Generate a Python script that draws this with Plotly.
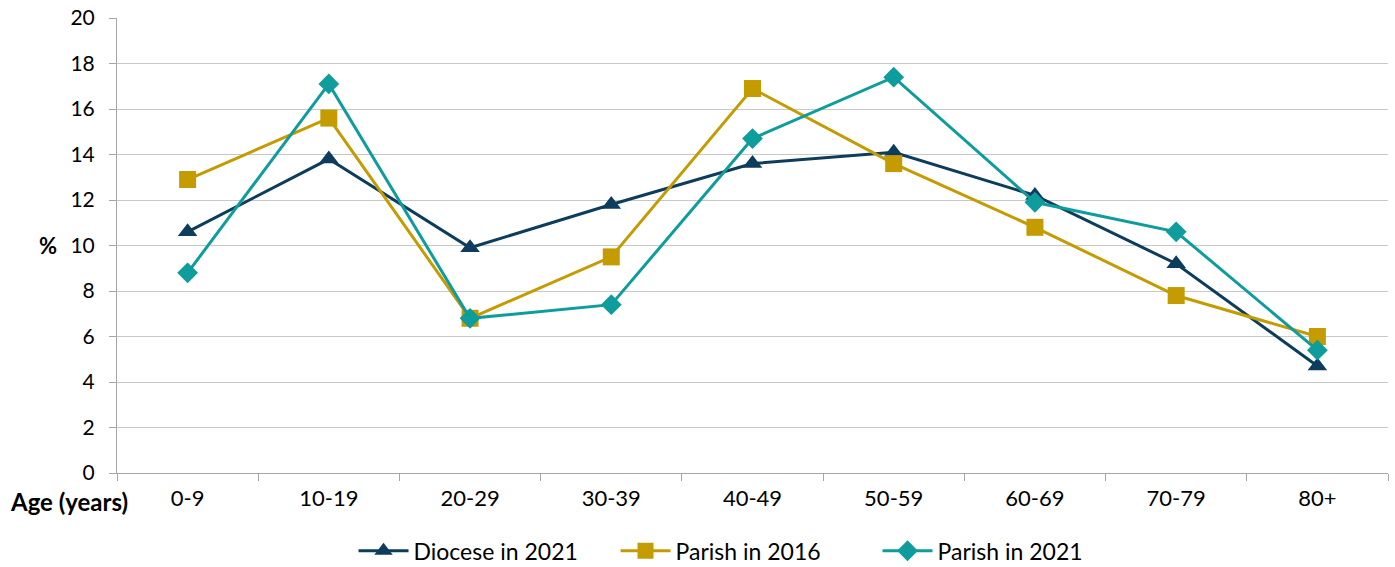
import plotly.graph_objects as go

categories = ["0-9", "10-19", "20-29", "30-39", "40-49", "50-59", "60-69", "70-79", "80+"]
diocese_2021 = [10.6, 13.8, 9.9, 11.8, 13.6, 14.1, 12.2, 9.2, 4.7]
parish_2016 = [12.9, 15.6, 6.8, 9.5, 16.9, 13.6, 10.8, 7.8, 6.0]
parish_2021 = [8.8, 17.1, 6.8, 7.4, 14.7, 17.4, 11.9, 10.6, 5.4]
y_ticks = [0, 2, 4, 6, 8, 10, 12, 14, 16, 18, 20]

FONT = "Lato, 'Open Sans', sans-serif"

fig = go.Figure()
fig.add_trace(go.Scatter(x=categories, y=diocese_2021, name="Diocese in 2021", mode="lines+markers",
                         line=dict(color="#0D3D5C", width=3),
                         marker=dict(symbol="triangle-up", size=17, color="#0D3D5C")))
fig.add_trace(go.Scatter(x=categories, y=parish_2016, name="Parish in 2016", mode="lines+markers",
                         line=dict(color="#C49B00", width=3),
                         marker=dict(symbol="square", size=17, color="#C49B00")))
fig.add_trace(go.Scatter(x=categories, y=parish_2021, name="Parish in 2021", mode="lines+markers",
                         line=dict(color="#0E9C9C", width=3),
                         marker=dict(symbol="diamond", size=16, color="#0E9C9C")))

fig.update_layout(
    width=1395, height=567,
    margin=dict(l=117, r=7, t=18, b=94, autoexpand=False),
    paper_bgcolor="white", plot_bgcolor="white",
    font=dict(family=FONT, size=22, color="#000000"),
    showlegend=True,
    legend=dict(orientation="h", x=0.4953, xanchor="center", xref="paper", y=-0.171, yanchor="middle",
                font=dict(size=23), itemwidth=50, entrywidth=197, tracegroupgap=0,
                traceorder="normal"),
    xaxis=dict(type="category", showgrid=False, showline=True, linecolor="#A6A6A6", linewidth=1,
               ticks="outside", tickson="boundaries", ticklen=7, tickcolor="#A6A6A6",
               tickfont=dict(size=22), ticklabelstandoff=6, range=[-0.5, 8.5]),
    yaxis=dict(range=[0, 20], tickvals=y_ticks, showgrid=True, gridcolor="#C8C8C8", gridwidth=1,
               showline=True, linecolor="#A6A6A6", linewidth=1, ticks="outside", ticklen=7,
               tickcolor="#A6A6A6", tickfont=dict(size=21), ticklabelstandoff=10, zeroline=False),
)

fig.add_annotation(text="<b>%</b>", xref="paper", yref="paper", x=-0.0543, y=0.499, xanchor="center",
                   yanchor="middle", showarrow=False, font=dict(size=22))
fig.add_annotation(text="<b>Age (years)</b>", xref="paper", yref="paper", x=0.0102, y=-0.0637,
                   xanchor="right", yanchor="middle", showarrow=False, font=dict(size=24))

fig.write_html("out.html", config={"displayModeBar": False},
               post_script="document.body.style.margin='0';")
